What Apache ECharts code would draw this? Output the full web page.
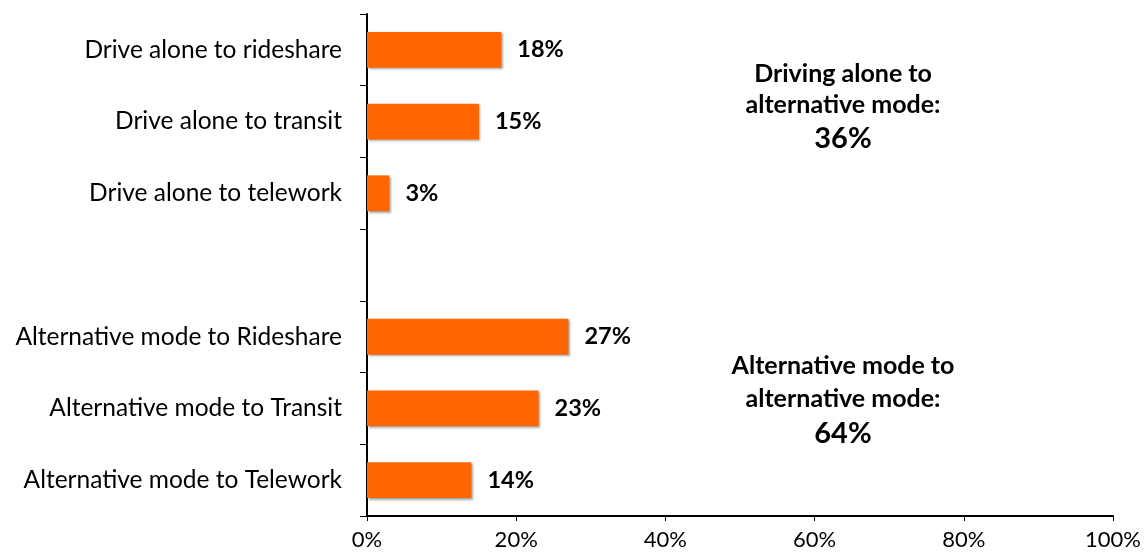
<!DOCTYPE html>
<html>
<head>
<meta charset="utf-8">
<script src="https://cdn.jsdelivr.net/npm/echarts@6/dist/echarts.min.js"></script>
<style>html,body{margin:0;padding:0;background:#fff}#c{width:1144px;height:556px}</style>
</head>
<body>
<div id="c"></div>
<script>
const categories = [
  'Drive alone to rideshare',
  'Drive alone to transit',
  'Drive alone to telework',
  '',
  'Alternative mode to Rideshare',
  'Alternative mode to Transit',
  'Alternative mode to Telework'
];
const shares = [18, 15, 3, null, 27, 23, 14];
const xTicks = { min: 0, max: 100, interval: 20 };
const annotations = [
  { lines: ['Driving alone to', 'alternative mode:'], total: '36%' },
  { lines: ['Alternative mode to', 'alternative mode:'], total: '64%' }
];

const FONT = 'Lato, "Open Sans", sans-serif';
const chart = echarts.init(document.getElementById('c'));
chart.setOption({
  animation: false,
  grid: { left: 367, right: 31, top: 14, bottom: 40, containLabel: false },
  xAxis: {
    type: 'value', min: xTicks.min, max: xTicks.max, interval: xTicks.interval,
    axisLine: { show: true, lineStyle: { color: '#000', width: 2 } },
    axisTick: { show: true, length: 5, lineStyle: { color: '#000', width: 1 } },
    splitLine: { show: false },
    axisLabel: { formatter: '{value}%', color: '#000', fontSize: 22, fontFamily: FONT, margin: 13 }
  },
  yAxis: {
    type: 'category', data: categories, inverse: true,
    axisLine: { show: true, lineStyle: { color: '#000', width: 2 } },
    axisTick: { show: true, length: 7, inside: false, lineStyle: { color: '#000', width: 1 } },
    axisLabel: { color: '#000', fontSize: 24.5, fontFamily: FONT, margin: 25 }
  },
  series: [{
    type: 'bar', data: shares, barWidth: '50%',
    itemStyle: {
      color: '#FF6600',
      shadowColor: 'rgba(0,0,0,0.35)', shadowBlur: 2, shadowOffsetX: 1.5, shadowOffsetY: 1.5
    },
    label: {
      show: true, position: 'right', distance: 16, formatter: '{c}%',
      color: '#000', fontSize: 23.5, fontWeight: 'bold', fontFamily: FONT
    }
  }],
  title: [
    { text: annotations[0].lines.join('\n'), left: 838, top: 53, textAlign: 'center',
      textStyle: { fontSize: 25, fontWeight: 'bold', color: '#000', fontFamily: FONT, lineHeight: 31, align: 'center' } },
    { text: annotations[0].total, left: 838, top: 119, textAlign: 'center',
      textStyle: { fontSize: 29, fontWeight: 'bold', color: '#000', fontFamily: FONT } },
    { text: annotations[1].lines.join('\n'), left: 838, top: 344, textAlign: 'center',
      textStyle: { fontSize: 25, fontWeight: 'bold', color: '#000', fontFamily: FONT, lineHeight: 33, align: 'center' } },
    { text: annotations[1].total, left: 838, top: 414, textAlign: 'center',
      textStyle: { fontSize: 29, fontWeight: 'bold', color: '#000', fontFamily: FONT } }
  ]
});
</script>
</body>
</html>
